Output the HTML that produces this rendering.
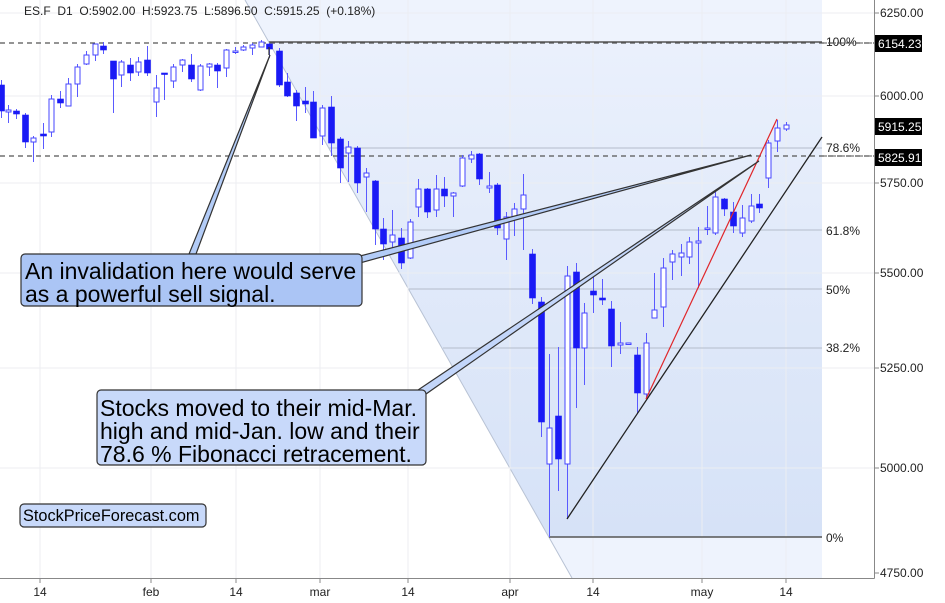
<!DOCTYPE html>
<html><head><meta charset="utf-8"><style>
html,body{margin:0;padding:0;background:#fff;}
svg{display:block;font-family:"Liberation Sans",sans-serif;}
</style></head><body>
<svg id="s" width="945" height="603" viewBox="0 0 945 603" xmlns="http://www.w3.org/2000/svg">
<defs>
<linearGradient id="g1" x1="0" y1="0" x2="0" y2="1">
<stop offset="0" stop-color="#eaf0fc"/><stop offset="1" stop-color="#d6e2f7"/>
</linearGradient>
</defs>
<polygon points="245,0 822,0 822,42 269,42" fill="#eef3fd"/>
<polygon points="269,42 822,42 822,537 549,537" fill="url(#g1)"/>
<polygon points="549,537 822,537 822,578 572,578" fill="#eef3fd"/>
<line x1="245" y1="0" x2="572" y2="578" stroke="#b8c2d4" stroke-width="1"/>
<g stroke="#eceef2" stroke-width="1">
<line x1="0" y1="13" x2="874" y2="13"/><line x1="0" y1="96" x2="874" y2="96"/>
<line x1="0" y1="183" x2="874" y2="183"/><line x1="0" y1="273" x2="874" y2="273"/>
<line x1="0" y1="368" x2="874" y2="368"/><line x1="0" y1="468" x2="874" y2="468"/>
<line x1="40" y1="0" x2="40" y2="578"/><line x1="151" y1="0" x2="151" y2="578"/>
<line x1="236" y1="0" x2="236" y2="578"/><line x1="320" y1="0" x2="320" y2="578"/>
<line x1="408" y1="0" x2="408" y2="578"/><line x1="510" y1="0" x2="510" y2="578"/>
<line x1="593" y1="0" x2="593" y2="578"/><line x1="702" y1="0" x2="702" y2="578"/>
<line x1="786" y1="0" x2="786" y2="578"/>
</g>
<line x1="269" y1="42" x2="822" y2="42" stroke="#555" stroke-width="1.5"/>
<line x1="329" y1="148" x2="822" y2="148" stroke="#b4bccb" stroke-width="1"/>
<line x1="376" y1="230" x2="822" y2="230" stroke="#b4bccb" stroke-width="1"/>
<line x1="409" y1="289" x2="822" y2="289" stroke="#b4bccb" stroke-width="1"/>
<line x1="443" y1="348" x2="822" y2="348" stroke="#b4bccb" stroke-width="1"/>
<line x1="549" y1="537" x2="822" y2="537" stroke="#555" stroke-width="1.5"/>
<g font-size="12" fill="#222">
<text x="826" y="46">100%</text><text x="826" y="152">78.6%</text>
<text x="826" y="235">61.8%</text><text x="826" y="294">50%</text>
<text x="826" y="352">38.2%</text><text x="826" y="542">0%</text>
</g>
<line x1="0" y1="43" x2="874" y2="43" stroke="#555" stroke-width="1.2" stroke-dasharray="5,4"/>
<line x1="0" y1="156" x2="874" y2="156" stroke="#555" stroke-width="1.2" stroke-dasharray="5,4"/>
<g id="candles"></g>
<line x1="567" y1="519" x2="822" y2="137" stroke="#222" stroke-width="1.3"/>
<line x1="646" y1="399" x2="777" y2="119" stroke="#e0262a" stroke-width="1.2"/>
<polygon points="189,254 196,254 270,55" fill="#b3ccf7" stroke="#333" stroke-width="1.2"/>
<line x1="269" y1="55" x2="269" y2="47" stroke="#333" stroke-width="1.2"/>
<polygon points="360,256 360,263 751,155" fill="#b3ccf7" stroke="#333" stroke-width="1.2"/>
<polygon points="418,390 426,394 759,161" fill="#c3d6fa" stroke="#333" stroke-width="1.2"/>
<rect x="21" y="254" width="341" height="52" rx="4" fill="#abc5f5" stroke="#333" stroke-width="1.2"/>
<text x="25" y="279" font-size="23" fill="#000">An invalidation here would serve</text>
<text x="25" y="302" font-size="23" fill="#000">as a powerful sell signal.</text>
<rect x="97" y="390" width="329" height="75" rx="4" fill="#c8d9fa" stroke="#333" stroke-width="1.2"/>
<text x="100" y="416" font-size="23" fill="#000">Stocks moved to their mid-Mar.</text>
<text x="100" y="439" font-size="23" fill="#000">high and mid-Jan. low and their</text>
<text x="100" y="462" font-size="23" fill="#000">78.6 % Fibonacci retracement.</text>
<rect x="20" y="504" width="186" height="23" rx="4" fill="#c8d9fa" stroke="#333" stroke-width="1.2"/>
<text x="23" y="521" font-size="16.3" fill="#000">StockPriceForecast.com</text>
<text x="24" y="15" font-size="12" fill="#222" xml:space="preserve">ES.F  D1  O:5902.00  H:5923.75  L:5896.50  C:5915.25  (+0.18%)</text>
<rect x="875" y="0" width="70" height="603" fill="#fff"/>
<rect x="0" y="579" width="945" height="24" fill="#fff"/>
<line x1="874.5" y1="0" x2="874.5" y2="578.5" stroke="#888" stroke-width="1"/>
<line x1="0" y1="578.5" x2="874.5" y2="578.5" stroke="#888" stroke-width="1"/>
<g stroke="#888"><line x1="874" y1="13" x2="879" y2="13"/><line x1="874" y1="96" x2="879" y2="96"/><line x1="874" y1="183" x2="879" y2="183"/><line x1="874" y1="273" x2="879" y2="273"/><line x1="874" y1="368" x2="879" y2="368"/><line x1="874" y1="468" x2="879" y2="468"/><line x1="874" y1="573" x2="879" y2="573"/>
<line x1="40" y1="578" x2="40" y2="583"/><line x1="151" y1="578" x2="151" y2="583"/><line x1="236" y1="578" x2="236" y2="583"/><line x1="320" y1="578" x2="320" y2="583"/><line x1="408" y1="578" x2="408" y2="583"/><line x1="510" y1="578" x2="510" y2="583"/><line x1="593" y1="578" x2="593" y2="583"/><line x1="702" y1="578" x2="702" y2="583"/><line x1="786" y1="578" x2="786" y2="583"/></g>
<line x1="822" y1="43" x2="874" y2="43" stroke="#555" stroke-dasharray="5,4"/>
<line x1="822" y1="156" x2="874" y2="156" stroke="#555" stroke-dasharray="5,4"/>
<g font-size="12" fill="#222">
<text x="880" y="17">6250.00</text><text x="880" y="100">6000.00</text>
<text x="880" y="187">5750.00</text><text x="880" y="277">5500.00</text>
<text x="880" y="372">5250.00</text><text x="880" y="472">5000.00</text>
<text x="880" y="577">4750.00</text>
</g>
<rect x="875" y="35" width="47" height="17" fill="#000"/><text x="878" y="48" font-size="12" fill="#fff">6154.23</text>
<rect x="875" y="118" width="47" height="17" fill="#000"/><text x="878" y="131" font-size="12" fill="#fff">5915.25</text>
<rect x="875" y="149" width="47" height="17" fill="#000"/><text x="878" y="162" font-size="12" fill="#fff">5825.91</text>
<g font-size="12" fill="#222" text-anchor="middle">
<text x="40" y="596">14</text><text x="151" y="596">feb</text><text x="236" y="596">14</text>
<text x="320" y="596">mar</text><text x="408" y="596">14</text><text x="510" y="596">apr</text>
<text x="593" y="596">14</text><text x="702" y="596">may</text><text x="786" y="596">14</text>
</g>
</svg>
<script>
var d=[[1,80,118,85,111,1],[8,105,123,110,112,0],[16,109,119,111,114,1],[25,113,148,115,142,1],[33,136,162,138,142,0],[43,123,149,134,136,1],[51,95,137,99,132,0],[60,91,108,99,103,1],[68,78,106,84,106,0],[77,64,97,67,84,0],[86,51,65,55,64,0],[95,44,61,44,55,0],[103,42,54,46,50,1],[113,61,113,61,79,1],[121,60,87,62,75,0],[130,58,81,65,73,1],[138,57,76,62,72,0],[147,46,76,60,73,1],[156,75,117,88,102,0],[164,73,100,73,74,1],[173,64,88,67,81,0],[182,59,72,60,65,0],[191,54,82,65,79,1],[200,64,91,66,90,0],[209,63,76,64,67,0],[217,63,88,65,71,1],[226,49,77,50,68,0],[235,47,54,51,52,0],[243,45,51,47,50,0],[252,43,55,45,48,0],[261,40,47,42,47,0],[269,43,58,44,49,1],[279,48,87,51,85,1],[287,73,97,82,96,1],[296,90,121,93,106,1],[305,87,113,101,104,1],[313,91,138,102,138,1],[322,105,145,108,136,0],[331,96,156,107,143,1],[340,137,183,139,168,1],[348,141,182,147,153,0],[357,146,193,148,183,1],[366,168,212,173,177,0],[375,180,245,181,229,1],[383,218,260,229,244,1],[392,210,253,235,242,0],[401,228,269,238,263,1],[410,219,259,222,258,0],[418,179,217,189,207,0],[427,188,218,189,212,1],[436,175,217,189,210,0],[444,177,207,189,196,1],[453,192,217,193,196,0],[462,155,187,158,186,0],[471,151,163,155,159,0],[479,153,185,154,179,1],[489,172,193,186,188,0],[497,183,235,185,228,1],[506,212,260,217,239,0],[514,203,236,209,218,0],[523,174,250,195,209,0],[532,249,304,254,298,1],[541,297,437,302,422,1],[549,354,537,428,464,0],[558,347,491,416,459,1],[567,266,519,276,464,0],[576,263,408,272,348,1],[584,303,385,313,348,0],[593,273,313,291,295,1],[602,279,305,298,300,1],[611,301,367,309,346,1],[620,322,354,343,345,0],[628,343,344,343,344,0],[637,347,414,355,393,1],[646,333,398,343,394,0],[654,273,318,310,318,0],[663,258,327,268,307,0],[672,250,280,254,262,0],[681,244,276,253,257,0],[689,237,264,242,257,0],[698,227,288,241,243,0],[707,206,235,228,229,0],[715,192,235,197,233,0],[724,198,216,199,209,1],[733,202,233,212,226,1],[742,205,237,218,233,0],[751,194,223,206,221,0],[759,194,213,204,208,1],[768,140,188,143,178,0],[777,120,152,128,141,0],[786,122,131,125,129,0]];
var g=document.getElementById("candles"),h="";
d.forEach(function(c){var x=c[0];
h+='<line x1="'+(x+.5)+'" y1="'+c[1]+'" x2="'+(x+.5)+'" y2="'+c[2]+'" stroke="#5a5aff" stroke-width="1"/>';
var bh=Math.max(1.5,c[4]-c[3]);
if(c[5])h+='<rect x="'+(x-2.5)+'" y="'+c[3]+'" width="6" height="'+bh+'" fill="#1a1af5" stroke="#1a1af5" stroke-width="0.6"/>';
else h+='<rect x="'+(x-2)+'" y="'+c[3]+'" width="5" height="'+bh+'" fill="#fff" stroke="#4545ff" stroke-width="1"/>';});
g.innerHTML=h;
</script>
</body></html>
